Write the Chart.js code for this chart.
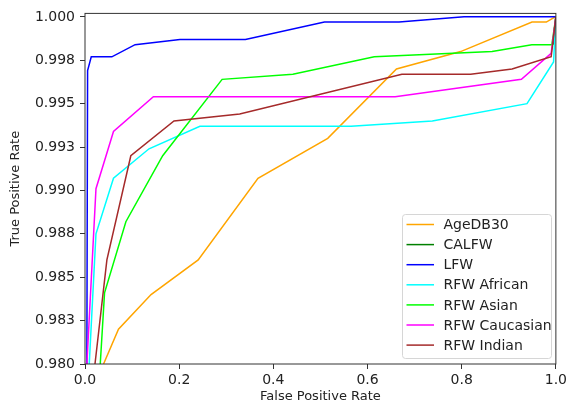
<!DOCTYPE html>
<html>
<head>
<meta charset="utf-8">
<script src="https://cdn.jsdelivr.net/npm/chart.js@4.4.1/dist/chart.umd.min.js"></script>
<style>
  html, body { margin: 0; padding: 0; background: #fff; }
  #wrap { width: 570px; height: 403px; }
</style>
</head>
<body>
<div id="wrap"><canvas id="roc"></canvas></div>
<script>
// --- data (FPR, TPR pairs) ---
const seriesNames = ["AgeDB30", "CALFW", "LFW", "RFW African", "RFW Asian", "RFW Caucasian", "RFW Indian"];
const seriesColors = ["#ffa500", "#008000", "#0000ff", "#00ffff", "#00ff00", "#ff00ff", "#a52a2a"];

const ageFpr = [0.0394, 0.0711, 0.1403, 0.2404, 0.3674, 0.5155, 0.6615, 0.7977, 0.9493, 0.9797, 0.9987, 1.0];
const ageTpr = [0.9800, 0.9820, 0.9840, 0.9860, 0.9907, 0.9930, 0.9970, 0.9980, 0.9997, 0.9997, 1.0000, 1.0];

const calFpr = [0.9950, 0.9970, 1.0];
const calTpr = [0.9984, 0.9993, 1.0];

const lfwFpr = [0.0030, 0.0055, 0.0133, 0.0570, 0.1064, 0.2016, 0.3407, 0.5085, 0.6670, 0.8050, 1.0];
const lfwTpr = [0.9700, 0.9969, 0.9977, 0.9977, 0.9984, 0.9987, 0.9987, 0.9997, 0.9997, 1.0000, 1.0];

const afrFpr = [0.0090, 0.0233, 0.0605, 0.1360, 0.2440, 0.5650, 0.7376, 0.9387, 0.9951, 1.0];
const afrTpr = [0.9800, 0.9875, 0.9907, 0.9924, 0.9937, 0.9937, 0.9940, 0.9950, 0.9974, 1.0];

const asiFpr = [0.0324, 0.0415, 0.0868, 0.1650, 0.2912, 0.4414, 0.6143, 0.8646, 0.9490, 0.9915, 1.0];
const asiTpr = [0.9800, 0.9841, 0.9882, 0.9920, 0.9964, 0.9967, 0.9977, 0.9980, 0.9984, 0.9984, 1.0];

const cauFpr = [0.0040, 0.0233, 0.0605, 0.1452, 0.6587, 0.9268, 0.9900, 1.0];
const cauTpr = [0.9800, 0.9901, 0.9934, 0.9954, 0.9954, 0.9964, 0.9979, 1.0];

const indFpr = [0.0212, 0.0465, 0.0973, 0.1890, 0.3286, 0.6730, 0.8190, 0.9070, 0.9900, 1.0];
const indTpr = [0.9800, 0.9860, 0.9920, 0.9940, 0.9944, 0.9967, 0.9967, 0.9970, 0.9977, 1.0];

const xTickValues = [0, 0.2, 0.4, 0.6, 0.8, 1.0];
const xTickLabels = ["0.0", "0.2", "0.4", "0.6", "0.8", "1.0"];
const yTickValues = [0.98, 0.9825, 0.985, 0.9875, 0.99, 0.9925, 0.995, 0.9975, 1.0];
const yTickLabels = ["0.980", "0.983", "0.985", "0.988", "0.990", "0.993", "0.995", "0.998", "1.000"];

const fprs = [ageFpr, calFpr, lfwFpr, afrFpr, asiFpr, cauFpr, indFpr];
const tprs = [ageTpr, calTpr, lfwTpr, afrTpr, asiTpr, cauTpr, indTpr];

const FONT = "'DejaVu Sans', sans-serif";

const datasets = seriesNames.map((name, i) => ({
  label: name,
  data: fprs[i].map((x, k) => ({ x, y: tprs[i][k] })),
  borderColor: seriesColors[i],
  backgroundColor: seriesColors[i],
  borderWidth: 1.5,
  pointRadius: 0,
  showLine: true,
  fill: false,
  tension: 0,
  order: -i // later series on top, like matplotlib
}));

// frame around the plot + legend box in the lower right
const framePlugin = {
  id: "frame",
  afterDraw(chart) {
    const { ctx, chartArea: a } = chart;
    ctx.save();
    ctx.strokeStyle = "#333";
    ctx.lineWidth = 1;
    ctx.strokeRect(a.left, a.top, a.right - a.left, a.bottom - a.top);

    // legend
    const bx = 402.5, by = 214.5, bw = 149, bh = 144, r = 3;
    ctx.globalAlpha = 0.8;
    ctx.fillStyle = "#fff";
    ctx.beginPath();
    ctx.roundRect(bx, by, bw, bh, r);
    ctx.fill();
    ctx.globalAlpha = 1;
    ctx.strokeStyle = "#d6d6d6";
    ctx.stroke();

    ctx.font = "14px " + FONT;
    ctx.textBaseline = "middle";
    ctx.fillStyle = "#222";
    chart.data.datasets.forEach((ds, i) => {
      const cy = 224.5 + i * 20.1;
      ctx.strokeStyle = ds.borderColor;
      ctx.lineWidth = 1.5;
      ctx.beginPath();
      ctx.moveTo(406.5, cy);
      ctx.lineTo(434, cy);
      ctx.stroke();
      ctx.fillText(ds.label, 443.5, cy + 1);
    });
    ctx.restore();
  }
};

new Chart(document.getElementById("roc"), {
  type: "scatter",
  data: { datasets },
  options: {
    responsive: true,
    maintainAspectRatio: false,
    animation: false,
    layout: { padding: { top: 11, right: 12.5, left: 0, bottom: 0 } },
    plugins: {
      legend: { display: false },
      tooltip: { enabled: false }
    },
    scales: {
      x: {
        type: "linear",
        min: 0,
        max: 1,
        afterFit: (s) => { s.height = 39; },
        afterBuildTicks: (s) => { s.ticks = xTickValues.map((v) => ({ value: v })); },
        grid: { drawOnChartArea: false, tickLength: 5, color: "#333" },
        border: { display: false },
        ticks: {
          padding: 3,
          color: "#222",
          font: { family: FONT, size: 14 },
          callback: (v, i) => xTickLabels[i]
        },
        title: {
          display: true,
          text: "False Positive Rate",
          color: "#222",
          font: { family: FONT, size: 13, lineHeight: 1 },
          padding: { top: 0, bottom: 0 }
        }
      },
      y: {
        type: "linear",
        min: 0.98,
        max: 1.0002,
        afterFit: (s) => { s.width = 85; },
        afterBuildTicks: (s) => { s.ticks = yTickValues.map((v) => ({ value: v })); },
        grid: { drawOnChartArea: false, tickLength: 5, color: "#333" },
        border: { display: false },
        ticks: {
          padding: 5,
          color: "#222",
          font: { family: FONT, size: 14 },
          callback: (v, i) => yTickLabels[i]
        },
        title: {
          display: true,
          text: "True Positive Rate",
          color: "#222",
          font: { family: FONT, size: 13, lineHeight: 1 },
          padding: { top: 9, bottom: 0 }
        }
      }
    }
  },
  plugins: [framePlugin]
});
</script>
</body>
</html>
